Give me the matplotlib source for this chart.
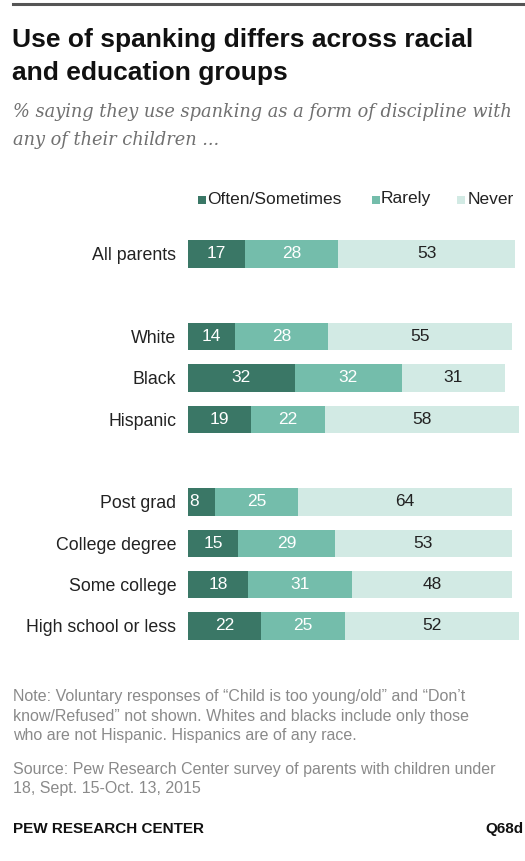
import matplotlib.pyplot as plt
from matplotlib.patches import Rectangle
import numpy as np

# data
groups = ["All parents", "White", "Black", "Hispanic",
          "Post grad", "College degree", "Some college", "High school or less"]
slots = [0, 2, 3, 4, 6, 7, 8, 9]          # gaps between the three blocks
often = [17, 14, 32, 19, 8, 15, 18, 22]
rarely = [28, 28, 32, 22, 25, 29, 31, 25]
never = [53, 55, 31, 58, 64, 53, 48, 52]
series_names = ["Often/Sometimes", "Rarely", "Never"]

colors = ["#3a7766", "#74bdab", "#d2eae4"]
label_colors = ["white", "white", "#222222"]

W, H = 525, 861
fig = plt.figure(figsize=(W / 100, H / 100), dpi=100)

def fx(px):
    return px / W

def fy(py):
    return 1 - py / H

# top rule
fig.add_artist(plt.Line2D([fx(13), 1], [fy(4), fy(4)], color="#555555", linewidth=2.2))

# title + subtitle
for yy, line in zip([40, 73], ["Use of spanking differs across racial", "and education groups"]):
    fig.text(fx(12), fy(yy), line, fontsize=19, fontweight="bold", family="Liberation Sans",
             color="#111111", va="center", ha="left")
for yy, line in zip([112, 140], ["% saying they use spanking as a form of discipline with",
                                 "any of their children ..."]):
    fig.text(fx(13), fy(yy), line, fontsize=12.8, style="italic", family="DejaVu Serif",
             color="#707070", va="center", ha="left")

# bars
ax = fig.add_axes([fx(188), fy(660), 334 / W, 440 / H])
px_per_slot = (626 - 254) / 9
top = (220 - 254) / px_per_slot
bottom = (660 - 254) / px_per_slot
ax.set_xlim(0, 100)
ax.set_ylim(bottom, top)

y = np.array(slots, dtype=float)
left = np.zeros(len(groups))
for vals, c, tc in zip([often, rarely, never], colors, label_colors):
    vals = np.array(vals, dtype=float)
    ax.barh(y, vals, left=left, height=0.66, color=c, edgecolor="none")
    for yi, l, v in zip(y, left, vals):
        if v < 10:
            ax.text(l + 0.3, yi, f"{int(v)}", color=tc, fontsize=12.5, va="center", ha="left",
                    family="Liberation Sans")
        else:
            ax.text(l + v / 2, yi, f"{int(v)}", color=tc, fontsize=12.5, va="center", ha="center",
                    family="Liberation Sans")
    left += vals

ax.set_yticks(y)
ax.set_yticklabels(groups, fontsize=12.8, family="Liberation Sans", color="#222222")
ax.tick_params(axis="y", length=0, pad=8.5)
ax.tick_params(axis="x", bottom=False, labelbottom=False)
for pos in ["right", "top", "bottom", "left"]:
    ax.spines[pos].set_visible(False)

# legend (drawn by hand to sit where the reference puts it)
sq_x = [198, 372, 457]
txt_x = [207, 381, 468]
for c, name, sx, tx in zip(colors, series_names, sq_x, txt_x):
    fig.add_artist(Rectangle((fx(sx), fy(203.5)), 7.5 / W, 7.5 / H, transform=fig.transFigure,
                             facecolor=c, edgecolor="none"))
    fig.text(fx(tx), fy(199), name, fontsize=12.5, family="Liberation Sans", color="#222222",
             va="center", ha="left")

# notes
note_color = "#8a8a8a"
fig.text(fx(13), fy(716), "Note: Voluntary responses of \u201cChild is too young/old\u201d and \u201cDon\u2019t\n"
         "know/Refused\u201d not shown. Whites and blacks include only those\n"
         "who are not Hispanic. Hispanics are of any race.",
         fontsize=11.5, family="Liberation Sans", color=note_color, va="center", ha="left",
         linespacing=1.4)
fig.text(fx(13), fy(779), "Source: Pew Research Center survey of parents with children under\n"
         "18, Sept. 15-Oct. 13, 2015",
         fontsize=11.5, family="Liberation Sans", color=note_color, va="center", ha="left",
         linespacing=1.4)
fig.text(fx(13), fy(829), "PEW RESEARCH CENTER", fontsize=11, fontweight="bold",
         family="Liberation Sans", color="#111111", va="center", ha="left")
fig.text(fx(524), fy(829), "Q68d", fontsize=11, fontweight="bold",
         family="Liberation Sans", color="#111111", va="center", ha="right")

fig.savefig("out.png", dpi=100, facecolor="white")
